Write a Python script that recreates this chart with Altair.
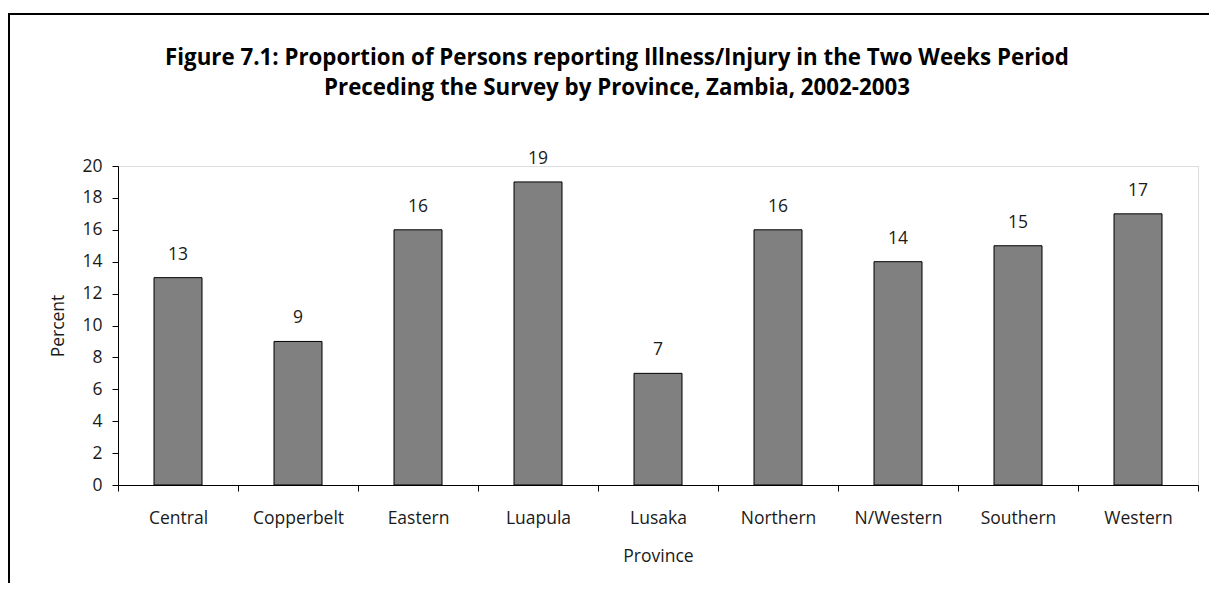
import altair as alt
import pandas as pd

provinces = ["Central", "Copperbelt", "Eastern", "Luapula", "Lusaka",
             "Northern", "N/Western", "Southern", "Western"]
percent = [13, 9, 16, 19, 7, 16, 14, 15, 17]
y_ticks = list(range(0, 21, 2))

df = pd.DataFrame({"Province": provinces, "Percent": percent})

FONT = "Open Sans"

x_enc = alt.X("Province:N", sort=provinces, title="Province",
              scale=alt.Scale(paddingInner=0, paddingOuter=0),
              axis=alt.Axis(labelAngle=0, tickBand="extent", tickSize=6,
                            labelPadding=18, titlePadding=21,
                            domainColor="black", tickColor="black",
                            labelColor="#1a1a1a", titleColor="#1a1a1a",
                            labelFontSize=17.5, titleFontSize=17.5,
                            titleFontWeight="normal", labelFont=FONT, titleFont=FONT))
y_enc = alt.Y("Percent:Q", title="Percent",
              scale=alt.Scale(domain=[0, 20], nice=False),
              axis=alt.Axis(values=y_ticks, tickCount=len(y_ticks), tickSize=6,
                            labelPadding=10, titlePadding=14, grid=False,
                            labelOverlap=False,
                            domainColor="black", tickColor="black",
                            labelColor="#1a1a1a", titleColor="#1a1a1a",
                            labelFontSize=17.5, titleFontSize=17.5,
                            titleFontWeight="normal", labelFont=FONT, titleFont=FONT))

base = alt.Chart(df)

bars = base.mark_bar(width=alt.RelativeBandSize(0.4), color="#808080",
                     stroke="black", strokeWidth=1).encode(x=x_enc, y=y_enc)

labels = base.mark_text(baseline="alphabetic", dy=-18, fontSize=17.5,
                        font=FONT, color="#1a1a1a").encode(
    x=alt.X("Province:N", sort=provinces),
    y=alt.Y("Percent:Q"),
    text=alt.Text("Percent:Q"))

frame = alt.Chart(pd.DataFrame({"k": [0]})).mark_rect(
    fill=None, stroke="black", strokeWidth=2, clip=False).encode(
    x=alt.value(-109), y=alt.value(-152), x2=alt.value(3000), y2=alt.value(3000))

chart = alt.layer(bars, labels, frame).properties(
    width=1080, height=319,
    title=alt.Title(
        ["Figure 7.1: Proportion of Persons reporting Illness/Injury in the Two Weeks Period",
         "Preceding the Survey by Province, Zambia, 2002-2003"],
        font=FONT, fontSize=22.3, fontWeight="bold", color="black",
        anchor="middle", dx=-41, offset=-86, lineHeight=30),
    autosize=alt.AutoSizeParams(type="none"),
    padding={"left": 110, "top": 158, "right": 11, "bottom": 98},
).configure_view(strokeWidth=0, stroke="transparent").configure(background="white")

chart.save("out.html", embed_options={"renderer": "svg", "actions": False})
